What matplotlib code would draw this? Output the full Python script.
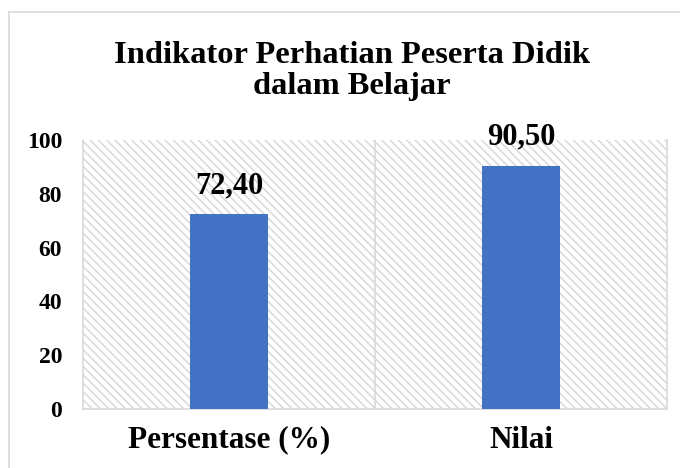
import numpy as np
import matplotlib.pyplot as plt
from matplotlib.patches import Rectangle
from matplotlib.lines import Line2D

categories = ["Persentase (%)", "Nilai"]
values = [72.40, 90.50]
value_labels = ["72,40", "90,50"]
yticks = [0, 20, 40, 60, 80, 100]

plt.rcParams['font.family'] = ['Liberation Serif', 'DejaVu Serif']
plt.rcParams['hatch.color'] = '#d9d9d9'
plt.rcParams['hatch.linewidth'] = 1.1

fig = plt.figure(figsize=(6.8, 4.68), dpi=100)
ax = fig.add_axes([83/680, 1-409/468, (667-83)/680, (409-140)/468])

# outer chart border (left and top visible)
fig.add_artist(Line2D([9/680, 9/680], [0, 1-12/468], transform=fig.transFigure, color='#d9d9d9', lw=1.2))
fig.add_artist(Line2D([9/680, 1], [1-12/468, 1-12/468], transform=fig.transFigure, color='#d9d9d9', lw=1.2))

# hatched plot background
ax.add_patch(Rectangle((0, 0), 1, 1, transform=ax.transAxes, facecolor='white',
                       edgecolor='#d9d9d9', hatch='\\' * 4, lw=0, zorder=0))

x = np.arange(len(categories))
ax.bar(x, values, width=0.27, color='#4472C4', zorder=3)
for xi, v, lab in zip(x, values, value_labels):
    ax.annotate(lab, (xi, v), xytext=(0, 10), textcoords='offset points',
                ha='center', va='bottom', fontsize=22, fontweight='bold')

ax.axvline(0.5, color='#d9d9d9', lw=1.2, zorder=1)
ax.set_xlim(-0.5, 1.5)
ax.set_ylim(0, 100)
ax.set_yticks(yticks)
ax.set_xticks(x)
ax.set_xticklabels(categories)
ax.tick_params(axis='y', length=0, pad=15, labelsize=17)
ax.tick_params(axis='x', length=0, pad=12, labelsize=22.5)
for lab in ax.get_xticklabels() + ax.get_yticklabels():
    lab.set_fontweight('bold')
for s in ['left', 'right', 'bottom']:
    ax.spines[s].set_color('#d9d9d9')
    ax.spines[s].set_linewidth(1.2)
ax.spines['top'].set_visible(False)

fig.text(352/680, 1-71/468, "Indikator Perhatian Peserta Didik\ndalam Belajar",
         ha='center', va='center', fontsize=23.4, fontweight='bold', linespacing=1.1)

fig.savefig('out.png', dpi=100)
